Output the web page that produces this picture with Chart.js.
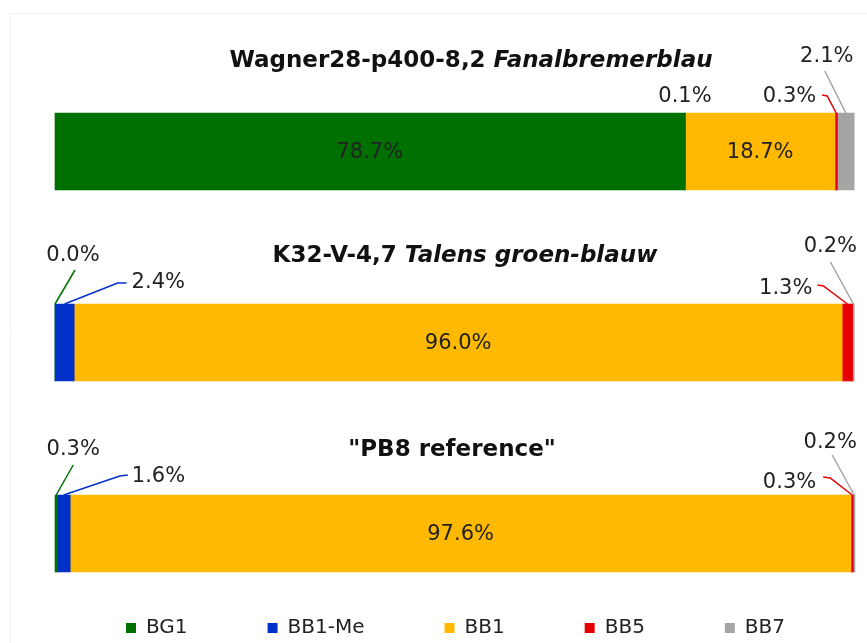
<!DOCTYPE html>
<html>
<head>
<meta charset="utf-8">
<script src="https://cdn.jsdelivr.net/npm/chart.js@4.4.1/dist/chart.umd.min.js"></script>
<style>
  html, body { margin: 0; padding: 0; background: #fff; }
  #wrap { width: 867px; height: 643px; position: relative; }
</style>
</head>
<body>
<div id="wrap"><canvas id="chart"></canvas></div>
<script>
// Data
const samples = ['Wagner28-p400-8,2', 'K32-V-4,7', '"PB8 reference"'];
const sampleNames = ['Fanalbremerblau', 'Talens groen-blauw', ''];
const series = ['BG1', 'BB1-Me', 'BB1', 'BB5', 'BB7'];
const bg1 = [78.7, 0.0, 0.3];
const bb1Me = [0.1, 2.4, 1.6];
const bb1 = [18.7, 96.0, 97.6];
const bb5 = [0.3, 1.3, 0.3];
const bb7 = [2.1, 0.2, 0.2];

const colors = ['#007000', '#0030c8', '#ffb900', '#e60000', '#a5a5a5'];
const font = 'DejaVu Sans';

// label placement: [bar, dataset, align, textDx, textDy, [line points relative to bar top at segment centre]]
const callouts = [
    [0, 1, 'center', 0, -16, null],
    [0, 3, 'right', -20, -16, [[-14, -18], [-9, -17]]],
    [0, 4, 'center', -19, -56, [[-21, -42]]],
    [1, 0, 'center', 18, -48, [[20, -34]]],
    [1, 1, 'left', 67, -21, [[62, -21], [53, -21]]],
    [1, 3, 'right', -35, -15, [[-30, -19], [-24, -18]]],
    [1, 4, 'center', -23, -57, [[-23, -42]]],
    [2, 0, 'center', 17, -45, [[17, -30]]],
    [2, 1, 'left', 68, -18, [[64, -20], [56, -19]]],
    [2, 3, 'right', -36, -12, [[-29, -18], [-22, -17]]],
    [2, 4, 'center', -24, -52, [[-22, -40]]]
];
const titleOffsets = [[16, -52], [10, -48], [-3, -45]];

const fmt = v => v.toFixed(1) + '%';

const labelsPlugin = {
    id: 'barLabels',
    afterDatasetsDraw(chart) {
        const ctx = chart.ctx;
        const area = chart.chartArea;
        ctx.save();
        ctx.textBaseline = 'middle';

        // faint frame
        ctx.strokeStyle = '#f0f0f0';
        ctx.lineWidth = 1;
        ctx.beginPath();
        ctx.moveTo(10.5, 700);
        ctx.lineTo(10.5, 13.5);
        ctx.lineTo(900, 13.5);
        ctx.stroke();

        // values inside wide segments
        ctx.fillStyle = '#222';
        ctx.font = '21px "' + font + '"';
        ctx.textAlign = 'center';
        chart.data.datasets.forEach((ds, i) => {
            chart.getDatasetMeta(i).data.forEach((bar, j) => {
                if (ds.data[j] >= 10) {
                    ctx.fillText(fmt(ds.data[j]), (bar.x + bar.base) / 2, bar.y + 1);
                }
            });
        });

        // callouts for thin segments
        callouts.forEach(([j, i, align, tx, ty, pts]) => {
            const bar = chart.getDatasetMeta(i).data[j];
            const ax = (bar.x + bar.base) / 2;
            const ay = bar.y - bar.height / 2;
            if (pts) {
                ctx.strokeStyle = colors[i];
                ctx.lineWidth = 1.5;
                ctx.beginPath();
                ctx.moveTo(ax + pts[0][0], ay + pts[0][1]);
                pts.slice(1).forEach(p => ctx.lineTo(ax + p[0], ay + p[1]));
                ctx.lineTo(ax, ay);
                ctx.stroke();
            }
            ctx.fillStyle = '#222';
            ctx.textAlign = align;
            ctx.fillText(fmt(chart.data.datasets[i].data[j]), ax + tx, ay + ty);
        });

        // titles above each bar
        const cx = (area.left + area.right) / 2;
        const meta = chart.getDatasetMeta(0).data;
        samples.forEach((s, j) => {
            const bar = meta[j];
            const top = bar.y - bar.height / 2;
            const bold = 'bold 23px "' + font + '"';
            const italic = 'italic bold 23px "' + font + '"';
            const first = sampleNames[j] ? s + ' ' : s;
            ctx.font = bold;
            const w1 = ctx.measureText(first).width;
            ctx.font = italic;
            const w2 = ctx.measureText(sampleNames[j]).width;
            let x = cx + titleOffsets[j][0] - (w1 + w2) / 2;
            const y = top + titleOffsets[j][1];
            ctx.fillStyle = '#111';
            ctx.textAlign = 'left';
            ctx.font = bold;
            ctx.fillText(first, x, y);
            ctx.font = italic;
            ctx.fillText(sampleNames[j], x + w1, y);
        });
        ctx.restore();
    }
};

const values = [bg1, bb1Me, bb1, bb5, bb7];

const hiddenAxis = {
    ticks: { display: false },
    grid: { display: false },
    border: { display: false }
};

new Chart(document.getElementById('chart'), {
    type: 'bar',
    data: {
        labels: samples,
        datasets: series.map((name, i) => ({
            label: name,
            data: values[i],
            backgroundColor: colors[i],
            borderWidth: 0,
            barThickness: 77,
            clip: false
        }))
    },
    options: {
        indexAxis: 'y',
        responsive: true,
        maintainAspectRatio: false,
        animation: false,
        layout: {
            padding: { left: 44, right: 0, top: 151.5, bottom: -5 }
        },
        scales: {
            x: {
                ...hiddenAxis,
                stacked: true,
                min: 0,
                max: 100,
                afterFit: axis => { axis.height = 4.5; }
            },
            y: {
                ...hiddenAxis,
                stacked: true,
                offset: false,
                afterFit: axis => { axis.width = 11; }
            },
            yRight: {
                ...hiddenAxis,
                type: 'category',
                position: 'right',
                afterFit: axis => { axis.width = 12; }
            }
        },
        plugins: {
            legend: {
                position: 'bottom',
                labels: {
                    boxWidth: 10,
                    boxHeight: 10,
                    padding: 80,
                    color: '#222',
                    font: { family: font, size: 20 }
                }
            },
            tooltip: { enabled: false }
        }
    },
    plugins: [labelsPlugin]
});
</script>
</body>
</html>
